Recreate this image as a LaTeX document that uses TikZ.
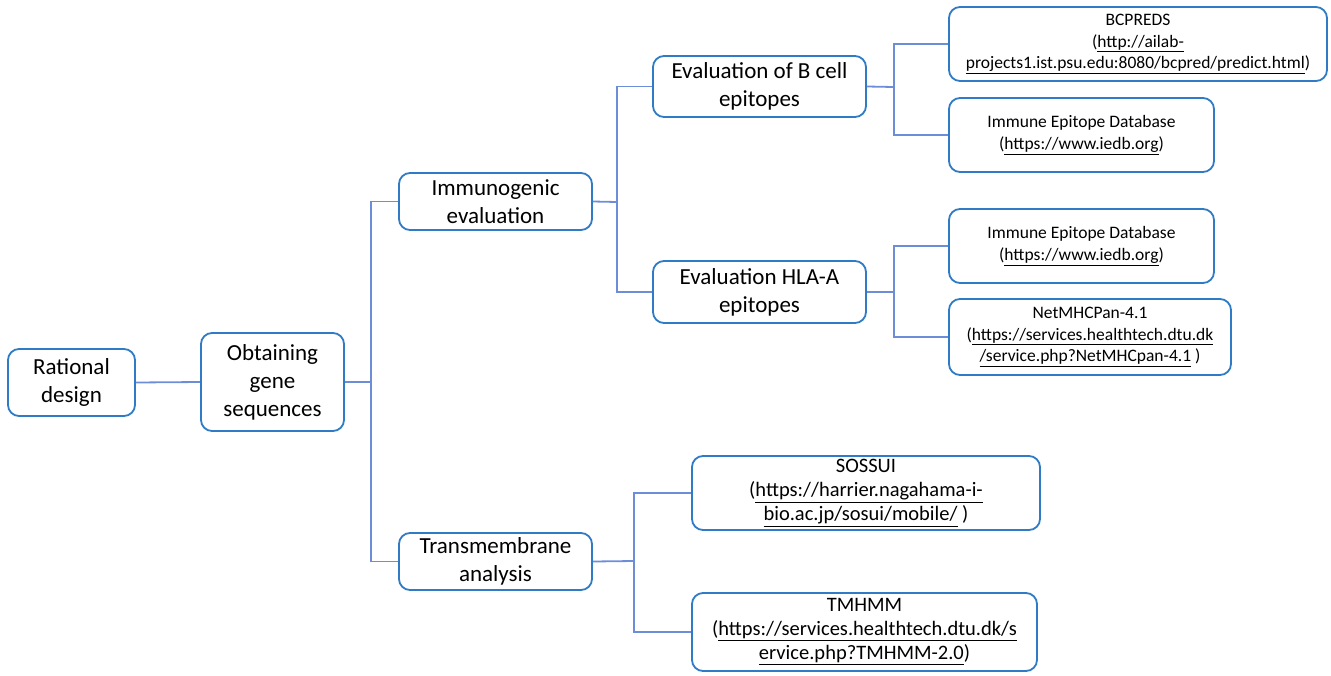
\documentclass[tikz,border=0pt]{standalone}
\usepackage{fontspec}
\setmainfont{Carlito}
\definecolor{boxblue}{HTML}{2F7BC6}
\definecolor{linkblue}{HTML}{6E8DD8}
\begin{document}
\begin{tikzpicture}[x=1pt,y=-1pt,
  box/.style={draw=boxblue, line width=1.8pt, rounded corners=11pt, fill=white, align=center, inner sep=0pt},
  big/.style={box, font=\fontsize{23}{28}\selectfont},
  mid/.style={box, font=\fontsize{20.5}{24}\selectfont},
  small/.style={box, font=\fontsize{17.5}{21.5}\selectfont},
  link/.style={draw=linkblue, line width=1.8pt}]
\path[use as bounding box] (0,0) rectangle (1331,675);
% nodes
\node[big, minimum width=127pt, minimum height=67pt] (rat) at (71.5,382.5) {Rational\\design};
\node[big, minimum width=143pt, minimum height=98pt] (obt) at (272.5,382) {Obtaining\\gene\\sequences};
\node[big, minimum width=193pt, minimum height=57pt] (imm) at (495.5,201.5) {Immunogenic\\evaluation};
\node[big, minimum width=193pt, minimum height=57pt] (tra) at (495.5,561.5) {Transmembrane\\analysis};
\node[big, minimum width=213pt, minimum height=61pt] (bce) at (759.5,86.5) {Evaluation of B cell\\epitopes};
\node[big, minimum width=213pt, minimum height=62pt] (hla) at (759.5,292) {Evaluation HLA-A\\epitopes};
\node[small, minimum width=378pt, minimum height=74pt] (bcp) at (1138,44) {BCPREDS\\(\underline{http://ailab-}\\\underline{projects1.ist.psu.edu:8080/bcpred/predict.html})};
\node[small, minimum width=265pt, minimum height=74pt] (ied1) at (1081.5,135) {Immune Epitope Database\\(\underline{https://www.iedb.org})};
\node[small, minimum width=265pt, minimum height=74pt] (ied2) at (1081.5,246) {Immune Epitope Database\\(\underline{https://www.iedb.org})};
\node[small, minimum width=282pt, minimum height=76pt] (net) at (1090,337) {NetMHCPan-4.1\\(\underline{https://services.healthtech.dtu.dk}\\\underline{/service.php?NetMHCpan-4.1} )};
\node[mid, minimum width=348pt, minimum height=74pt] (sos) at (866,493) {SOSSUI\\(\underline{https://harrier.nagahama-i-}\\\underline{bio.ac.jp/sosui/mobile/} )};
\node[mid, minimum width=345pt, minimum height=78pt] (tmh) at (864.5,632) {TMHMM\\(\underline{https://services.healthtech.dtu.dk/s}\\\underline{ervice.php?TMHMM-2.0})};
% junctions
\coordinate (j0) at (371,382);
\coordinate (j1) at (617,202);
\coordinate (j2) at (894,87);
\coordinate (j3) at (894,292);
\coordinate (j4) at (634,561);
% connectors
\draw[link] (rat.east) -- (obt.west);
\draw[link] (obt.east) -- (j0);
\draw[link] (imm.west) -- (imm.west -| j0) -- (tra.west -| j0) -- (tra.west);
\draw[link] (imm.east) -- (j1);
\draw[link] (bce.west) -- (bce.west -| j1) -- (hla.west -| j1) -- (hla.west);
\draw[link] (bce.east) -- (j2);
\draw[link] (bcp.west) -- (bcp.west -| j2) -- (ied1.west -| j2) -- (ied1.west);
\draw[link] (hla.east) -- (j3);
\draw[link] (ied2.west) -- (ied2.west -| j3) -- (net.west -| j3) -- (net.west);
\draw[link] (tra.east) -- (j4);
\draw[link] (sos.west) -- (sos.west -| j4) -- (tmh.west -| j4) -- (tmh.west);
\end{tikzpicture}
\end{document}
